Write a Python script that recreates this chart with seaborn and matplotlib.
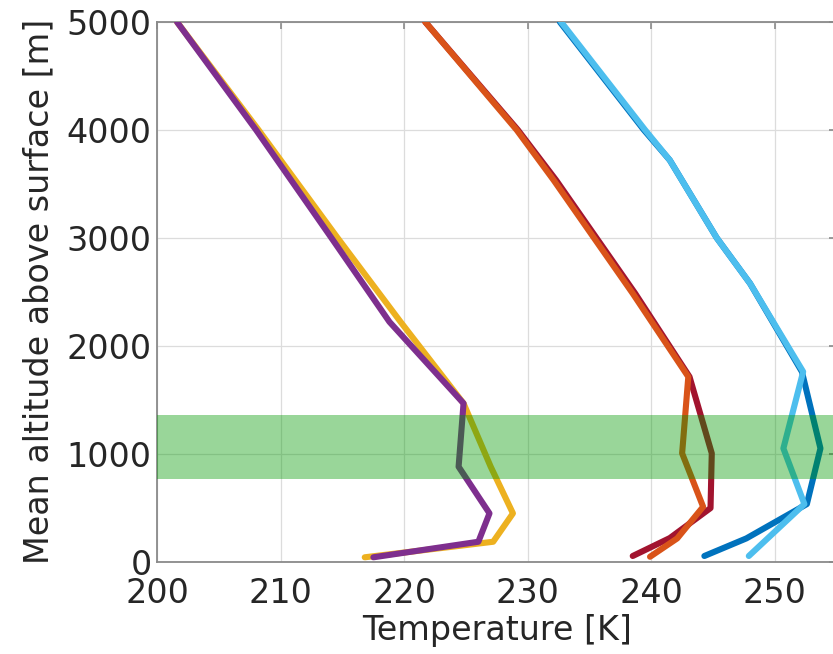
import pandas as pd
import seaborn as sns
import matplotlib.pyplot as plt

# Perfis de temperatura (T em K, altitude em m)
alt_a = [5000, 4000, 3000, 2222, 1467, 880, 448, 185, 41]
temp_amarelo = [201.6, 208.2, 214.6, 219.7, 224.8, 227.0, 228.8, 227.2, 216.8]
temp_roxo = [201.6, 208.0, 214.1, 218.8, 224.8, 224.4, 226.9, 226.0, 217.5]

alt_laranja = [5000, 4000, 3534, 2485, 1713, 1004, 509, 216, 46]
temp_laranja = [221.7, 229.1, 232.1, 238.5, 243.0, 242.5, 244.2, 242.1, 239.9]
alt_vermelho = [5000, 4000, 3534, 2485, 1713, 1004, 497, 219, 53]
temp_vermelho = [221.7, 229.2, 232.3, 238.7, 243.1, 244.9, 244.8, 241.5, 238.5]

alt_azul_claro = [5000, 4000, 3720, 3000, 2578, 1760, 1050, 534, 53]
temp_azul_claro = [232.7, 239.5, 241.5, 245.3, 248.0, 252.3, 250.7, 252.4, 247.9]
alt_azul = [5000, 4000, 3720, 3000, 2578, 1760, 1050, 534, 216, 53]
temp_azul = [232.6, 239.4, 241.5, 245.3, 248.0, 252.2, 253.7, 252.6, 247.7, 244.3]

# faixa destacada (camada limite)
faixa = (770, 1360)

series = [
    ("amarelo", temp_amarelo, alt_a),
    ("roxo", temp_roxo, alt_a),
    ("vermelho", temp_vermelho, alt_vermelho),
    ("laranja", temp_laranja, alt_laranja),
    ("azul", temp_azul, alt_azul),
    ("azul_claro", temp_azul_claro, alt_azul_claro),
]
cores = {
    "amarelo": (0.929, 0.694, 0.125),
    "roxo": (0.494, 0.184, 0.556),
    "vermelho": (0.635, 0.078, 0.184),
    "laranja": (0.850, 0.325, 0.098),
    "azul": (0.000, 0.447, 0.741),
    "azul_claro": (0.301, 0.745, 0.933),
}

df = pd.concat(
    [pd.DataFrame({"serie": nome, "T": t, "z": z}) for nome, t, z in series],
    ignore_index=True,
)

sns.set_theme(style="whitegrid")
plt.rcParams['font.family'] = ['DejaVu Sans']

fig = plt.figure(figsize=(8.33, 6.54), dpi=100)
ax = fig.add_axes([0.1888, 0.1411, 0.8154, 0.8253])

for nome, t, z in series:
    sub = df[df['serie'] == nome]
    sns.lineplot(data=sub, x='T', y='z', sort=False, estimator=None, color=cores[nome],
                 linewidth=4.4, ax=ax, legend=False, zorder=3)

ax.axhspan(faixa[0], faixa[1], color=(0.0, 0.6, 0.0), alpha=0.4, lw=0, zorder=4)

ax.set_xlim(200, 255)
ax.set_ylim(0, 5000)
ax.set_xticks(range(200, 251, 10))
ax.set_yticks(range(0, 5001, 1000))
ax.grid(True, color='#dcdcdc', linewidth=0.9)
for s in ax.spines.values():
    s.set_color('#8a8a8a')
    s.set_linewidth(1.3)
ax.tick_params(direction='in', length=5, width=1.2, color='#8a8a8a', labelsize=24,
               labelcolor='#262626', top=True, right=True)
ax.tick_params(axis='x', pad=11)
ax.tick_params(axis='y', pad=4)
ax.set_xlabel('Temperature [K]', fontsize=24, color='#262626', labelpad=3)
ax.set_ylabel('Mean altitude above surface [m]', fontsize=24, color='#262626', labelpad=8)

fig.savefig('out.png', dpi=100)
